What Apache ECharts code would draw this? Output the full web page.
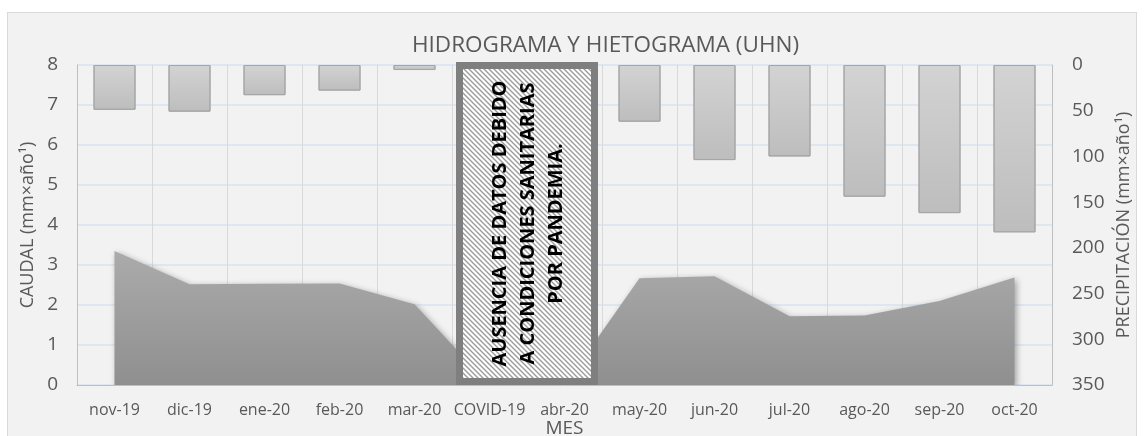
<!DOCTYPE html>
<html>
<head>
<meta charset="utf-8">
<script src="https://cdn.jsdelivr.net/npm/echarts@6/dist/echarts.min.js"></script>
<style>
html,body{margin:0;padding:0;background:#fff;}
#wrap{position:relative;width:1145px;height:436px;overflow:hidden;background:#fff;}
#frame{position:absolute;left:7px;top:12px;width:1130px;height:440px;background:#f2f2f2;border:1px solid #d9d9d9;box-sizing:border-box;}
#chart{position:absolute;left:0;top:0;width:1145px;height:436px;}
</style>
</head>
<body>
<div id="wrap"><div id="frame"></div><div id="chart"></div></div>
<script>
var categories = ['nov-19','dic-19','ene-20','feb-20','mar-20','COVID-19','abr-20','may-20','jun-20','jul-20','ago-20','sep-20','oct-20'];
var caudal = [3.35, 2.52, 2.53, 2.54, 2.02, 0, 0, 2.67, 2.72, 1.72, 1.74, 2.1, 2.69];
var precipitacion = [49, 51, 33, 28, 5.5, null, null, 62, 104, 100, 144, 162, 183];
var caudalTicks = {min: 0, max: 8, interval: 1};
var precipTicks = {min: 0, max: 350, interval: 50};
var titleText = 'HIDROGRAMA Y HIETOGRAMA (UHN)';
var noteLines = ['AUSENCIA DE DATOS DEBIDO', 'A CONDICIONES SANITARIAS', 'POR PANDEMIA.'];
var gapStart = 'COVID-19', gapEnd = 'abr-20';

var FONT = '"Open Sans", "Noto Sans", sans-serif';
var TXT = '#595959';
var chart = echarts.init(document.getElementById('chart'), null, {renderer: 'canvas'});

var option = {
  backgroundColor: 'transparent',
  animation: false,
  title: {
    text: titleText, left: 407, top: 29,
    textStyle: {fontFamily: FONT, fontSize: 22.5, fontWeight: 'normal', color: TXT}
  },
  grid: {left: 77, right: 93, top: 65, bottom: 51, containLabel: false, outerBoundsMode: 'none'},
  xAxis: {
    type: 'category', data: categories, boundaryGap: true,
    name: 'MES', nameLocation: 'middle', nameGap: 34, nameMoveOverlap: false,
    nameTextStyle: {fontFamily: FONT, fontSize: 19, color: TXT},
    axisLine: {show: true, lineStyle: {color: '#bfbfbf', width: 1}},
    axisTick: {show: false},
    axisLabel: {fontFamily: FONT, fontSize: 16, color: TXT, margin: 17, interval: 0},
    splitLine: {show: true, lineStyle: {color: '#d9d9d9', width: 1}}
  },
  yAxis: [{
    type: 'value', min: caudalTicks.min, max: caudalTicks.max, interval: caudalTicks.interval,
    name: 'CAUDAL (mm×año¹)', nameLocation: 'middle', nameGap: 40, nameMoveOverlap: false,
    nameTextStyle: {fontFamily: FONT, fontSize: 18, color: TXT},
    axisLine: {show: true, lineStyle: {color: '#bfbfbf'}},
    axisTick: {show: false},
    axisLabel: {fontFamily: FONT, fontSize: 19, color: TXT, margin: 19},
    splitLine: {show: true, lineStyle: {color: '#d6e3f1', width: 1.5}}
  }, {
    type: 'value', inverse: true, min: precipTicks.min, max: precipTicks.max, interval: precipTicks.interval,
    name: 'PRECIPITACIÓN (mm×año¹)', nameLocation: 'middle', nameGap: 63, nameMoveOverlap: false,
    nameTextStyle: {fontFamily: FONT, fontSize: 18, color: TXT},
    axisLine: {show: true, lineStyle: {color: '#bfbfbf'}},
    axisTick: {show: false},
    axisLabel: {fontFamily: FONT, fontSize: 19, color: TXT, margin: 20},
    splitLine: {show: false}
  }],
  series: [{
    name: 'Precipitación', type: 'bar', yAxisIndex: 1, data: precipitacion,
    barWidth: '56%', z: 2,
    itemStyle: {
      color: new echarts.graphic.LinearGradient(0, 0, 0, 1, [
        {offset: 0, color: '#d3d3d3'}, {offset: 1, color: '#bdbdbd'}]),
      borderColor: '#a6a6a6', borderWidth: 1
    }
  }, {
    name: 'Caudal', type: 'line', yAxisIndex: 0, data: caudal,
    symbol: 'none', smooth: false, z: 3,
    lineStyle: {width: 0, color: '#a6a6a6'},
    areaStyle: {
      color: new echarts.graphic.LinearGradient(0, 0, 0, 1, [
        {offset: 0, color: '#ababab'}, {offset: 1, color: '#8f8f8f'}]),
      opacity: 1,
      shadowBlur: 6, shadowColor: 'rgba(0,0,0,0.35)', shadowOffsetX: 2, shadowOffsetY: 2
    }
  }]
};
chart.setOption(option);

// hatch pattern
var tile = document.createElement('canvas');
tile.width = 5; tile.height = 5;
var c = tile.getContext('2d');
c.fillStyle = '#ffffff'; c.fillRect(0, 0, 5, 5);
c.strokeStyle = '#9b9b9b'; c.lineWidth = 1.4;
c.beginPath();
c.moveTo(-1, -1); c.lineTo(6, 6);
c.moveTo(-1, 4); c.lineTo(1, 6);
c.moveTo(4, -1); c.lineTo(6, 1);
c.stroke();

var x1 = chart.convertToPixel({xAxisIndex: 0}, gapStart);
var x2 = chart.convertToPixel({xAxisIndex: 0}, gapEnd);
var band = x2 - x1;
var yTop = chart.convertToPixel({yAxisIndex: 0}, caudalTicks.max);
var yBot = chart.convertToPixel({yAxisIndex: 0}, caudalTicks.min);
var oL = x1 - band / 2 + 4, oR = x2 + band / 2 - 4, oT = yTop - 3, oB = yBot;
var bw = 7;

chart.setOption({
  graphic: [{
    type: 'rect', z: 100,
    shape: {x: oL + bw / 2, y: oT + bw / 2, width: oR - oL - bw, height: oB - oT - bw},
    style: {fill: {image: tile, repeat: 'repeat'}, stroke: '#7f7f7f', lineWidth: bw}
  }, {
    type: 'text', z: 101,
    x: (oL + oR) / 2 + 1, y: (oT + oB) / 2, rotation: Math.PI / 2,
    style: {
      text: noteLines.join('\n'), fill: '#000', align: 'center', verticalAlign: 'middle',
      font: 'bold 20px ' + FONT, lineHeight: 28
    }
  }]
});
</script>
</body>
</html>
